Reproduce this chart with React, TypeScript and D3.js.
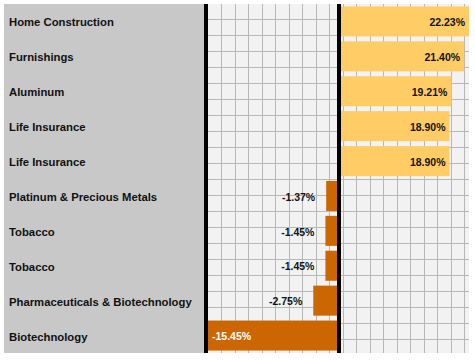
import * as d3 from 'd3';
import React, { useRef, useEffect } from 'react';

const categories = [
    'Home Construction',
    'Furnishings',
    'Aluminum',
    'Life Insurance',
    'Life Insurance',
    'Platinum & Precious Metals',
    'Tobacco',
    'Tobacco',
    'Pharmaceuticals & Biotechnology',
    'Biotechnology',
];
const values = [22.23, 21.4, 19.21, 18.9, 18.9, -1.37, -1.45, -1.45, -2.75, -15.45];

const W = 475;
const H = 360;

export default function App() {
    const ref = useRef<SVGSVGElement | null>(null);

    useEffect(() => {
        const svg = d3.select(ref.current);
        svg.selectAll('*').remove(); // Clear previous renders

        const top = 4, bottom = 353;
        const labelLeft = 4, plotLeft = 208, zeroX = 339, right = 469;
        const font = '"Liberation Sans", Arial, sans-serif';

        const y = d3
            .scaleBand<number>()
            .domain(d3.range(categories.length))
            .range([top, bottom])
            .paddingInner(0.14)
            .paddingOuter(0.07);

        // positive and negative sides use their own scales
        const xPos = d3.scaleLinear().domain([0, d3.max(values) as number]).range([zeroX, right]);
        const xNeg = d3.scaleLinear().domain([-14, 0]).range([plotLeft, zeroX]).clamp(true);

        // label panel + plot background
        svg.append('rect')
            .attr('x', labelLeft).attr('y', top)
            .attr('width', plotLeft - labelLeft).attr('height', bottom - top)
            .attr('fill', '#c8c8c8');
        svg.append('rect')
            .attr('x', plotLeft).attr('y', top)
            .attr('width', right - plotLeft).attr('height', bottom - top)
            .attr('fill', '#f2f2f2');

        // decorative grid
        const grid = svg.append('g').attr('stroke', '#b8b8b8').attr('stroke-width', 1);
        const vx = d3.range(1, 20).map(k => Math.floor(plotLeft + 13.5 * k) + 0.5);
        const hy = d3.range(1, 22).map(k => 3 + 16 * k + 0.5);
        grid.selectAll('line.v')
            .data(vx)
            .join('line')
            .attr('class', 'v')
            .attr('x1', d => d).attr('x2', d => d)
            .attr('y1', top).attr('y2', bottom);
        grid.selectAll('line.h')
            .data(hy)
            .join('line')
            .attr('class', 'h')
            .attr('x1', plotLeft).attr('x2', right)
            .attr('y1', d => d).attr('y2', d => d);

        const idx = d3.range(values.length);
        const mid = (i: number) => (y(i) as number) + y.bandwidth() / 2 + 1;

        // bars
        svg.selectAll('rect.bar')
            .data(idx)
            .join('rect')
            .attr('class', 'bar')
            .attr('x', i => (values[i] >= 0 ? zeroX : xNeg(values[i])))
            .attr('y', i => y(i) as number)
            .attr('width', i => (values[i] >= 0 ? xPos(values[i]) - zeroX : zeroX - xNeg(values[i])))
            .attr('height', y.bandwidth())
            .attr('fill', i => (values[i] >= 0 ? '#ffcc66' : '#cc6600'));

        // black separator lines
        svg.append('rect')
            .attr('x', plotLeft - 4).attr('y', top)
            .attr('width', 4).attr('height', bottom - top)
            .attr('fill', '#000');
        svg.append('rect')
            .attr('x', zeroX - 2).attr('y', top)
            .attr('width', 4).attr('height', bottom - top)
            .attr('fill', '#000');

        // category labels
        svg.selectAll('text.cat')
            .data(idx)
            .join('text')
            .attr('class', 'cat')
            .attr('x', 9)
            .attr('y', mid)
            .attr('dy', '0.35em')
            .style('font-family', font)
            .style('font-weight', 'bold')
            .style('font-size', '11.3px')
            .attr('fill', '#111')
            .text(i => categories[i]);

        // value labels
        const inside = (v: number) => v < xNeg.domain()[0];
        svg.selectAll('text.val')
            .data(idx)
            .join('text')
            .attr('class', 'val')
            .attr('x', i => {
                const v = values[i];
                if (v >= 0) return xPos(v) - 4;
                if (inside(v)) return xNeg(v) + 4;
                return xNeg(v) - 11;
            })
            .attr('y', mid)
            .attr('dy', '0.35em')
            .attr('text-anchor', i => (values[i] >= 0 || !inside(values[i]) ? 'end' : 'start'))
            .style('font-family', font)
            .style('font-weight', 'bold')
            .style('font-size', '10.5px')
            .attr('fill', i => (inside(values[i]) ? '#fff' : '#111'))
            .text(i => `${values[i].toFixed(2)}%`);
    }, []);

    return (
        <svg
            ref={ref}
            width={W}
            height={H}
            style={{ position: 'absolute', left: 0, top: 0, display: 'block' }}
        />
    );
}
